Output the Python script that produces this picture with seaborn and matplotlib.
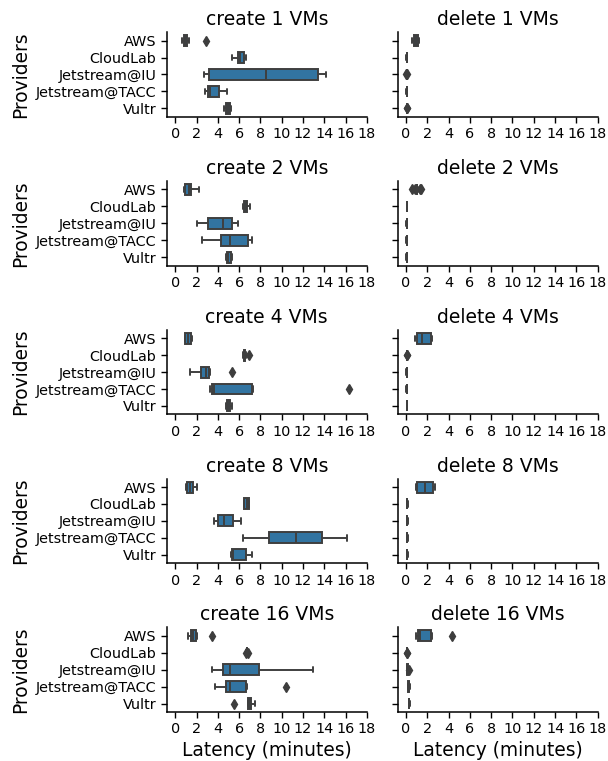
import matplotlib
matplotlib.use("Agg")
import matplotlib.pyplot as plt
import seaborn as sns
import pandas as pd

PROVIDERS = ["AWS", "CloudLab", "Jetstream@IU", "Jetstream@TACC", "Vultr"]
VM_COUNTS = [1, 2, 4, 8, 16]
OPERATIONS = ["create", "delete"]

# latency samples (minutes) per provider
CREATE_1 = {
    "AWS": [0.65, 0.75, 0.8, 0.9, 0.95, 1.0, 1.1, 1.3, 2.9],
    "CloudLab": [5.3, 5.85, 6.1, 6.45, 6.6],
    "Jetstream@IU": [2.7, 3.2, 8.5, 13.4, 14.2],
    "Jetstream@TACC": [2.8, 3.05, 3.3, 4.1, 4.9],
    "Vultr": [4.6, 4.8, 4.95, 5.1, 5.2],
}
DELETE_1 = {
    "AWS": [0.55, 0.75, 0.9, 1.1, 1.25],
    "CloudLab": [0.03, 0.06, 0.08, 0.1, 0.13],
    "Jetstream@IU": [0.04, 0.05, 0.05, 0.05, 0.05, 0.05, 0.05, 0.05, 0.09],
    "Jetstream@TACC": [0.03, 0.05, 0.07, 0.09, 0.11],
    "Vultr": [0.08, 0.1, 0.1, 0.1, 0.1, 0.1, 0.1, 0.1, 0.12],
}
CREATE_2 = {
    "AWS": [0.85, 0.95, 1.25, 1.5, 2.2],
    "CloudLab": [6.35, 6.45, 6.6, 6.75, 7.0],
    "Jetstream@IU": [2.0, 3.1, 4.45, 5.35, 5.9],
    "Jetstream@TACC": [2.5, 4.3, 5.15, 6.8, 7.2],
    "Vultr": [4.75, 4.85, 5.0, 5.2, 5.35],
}
DELETE_2 = {
    "AWS": [0.55, 0.8, 0.95, 1.0, 1.0, 1.02, 1.02, 1.04, 1.05, 1.05, 1.1, 1.3, 1.45],
    "CloudLab": [0.05, 0.06, 0.07, 0.08, 0.09],
    "Jetstream@IU": [0.03, 0.05, 0.06, 0.08, 0.1],
    "Jetstream@TACC": [0.03, 0.05, 0.06, 0.08, 0.1],
    "Vultr": [0.03, 0.05, 0.06, 0.08, 0.1],
}
CREATE_4 = {
    "AWS": [0.9, 0.95, 1.2, 1.45, 1.6],
    "CloudLab": [6.35, 6.4, 6.42, 6.45, 6.5, 6.52, 6.55, 6.6, 6.95],
    "Jetstream@IU": [1.4, 2.0, 2.45, 2.7, 2.85, 3.0, 3.2, 3.25, 5.3],
    "Jetstream@TACC": [3.3, 3.4, 3.45, 3.55, 3.65, 5.0, 7.25, 7.3, 16.35],
    "Vultr": [4.75, 4.85, 5.0, 5.15, 5.3],
}
DELETE_4 = {
    "AWS": [0.85, 1.05, 1.5, 2.35, 2.45],
    "CloudLab": [0.05, 0.07, 0.07, 0.07, 0.07, 0.07, 0.07, 0.07, 0.1],
    "Jetstream@IU": [0.04, 0.06, 0.07, 0.09, 0.1],
    "Jetstream@TACC": [0.04, 0.06, 0.07, 0.09, 0.1],
    "Vultr": [0.06, 0.08, 0.1, 0.12, 0.13],
}
CREATE_8 = {
    "AWS": [1.0, 1.15, 1.4, 1.7, 2.0],
    "CloudLab": [6.45, 6.5, 6.7, 6.9, 6.95],
    "Jetstream@IU": [3.6, 4.05, 4.6, 5.4, 6.2],
    "Jetstream@TACC": [6.4, 8.85, 11.3, 13.8, 16.15],
    "Vultr": [5.2, 5.3, 5.45, 6.6, 7.25],
}
DELETE_8 = {
    "AWS": [0.9, 1.0, 1.8, 2.5, 2.7],
    "CloudLab": [0.06, 0.08, 0.1, 0.12, 0.14],
    "Jetstream@IU": [0.06, 0.08, 0.1, 0.12, 0.14],
    "Jetstream@TACC": [0.06, 0.08, 0.1, 0.12, 0.14],
    "Vultr": [0.06, 0.08, 0.1, 0.12, 0.14],
}
CREATE_16 = {
    "AWS": [1.2, 1.3, 1.5, 1.55, 1.7, 1.8, 1.95, 2.0, 3.45],
    "CloudLab": [6.6, 6.68, 6.7, 6.7, 6.7, 6.7, 6.72, 6.74, 6.8],
    "Jetstream@IU": [3.5, 4.45, 5.1, 7.85, 12.9],
    "Jetstream@TACC": [3.75, 4.3, 4.8, 4.95, 5.15, 5.8, 6.6, 6.7, 10.45],
    "Vultr": [5.55, 6.8, 6.85, 6.9, 7.0, 7.05, 7.15, 7.35, 7.45],
}
DELETE_16 = {
    "AWS": [0.95, 1.1, 1.15, 1.25, 1.35, 1.8, 2.35, 2.4, 4.3],
    "CloudLab": [0.05, 0.07, 0.07, 0.07, 0.07, 0.07, 0.07, 0.07, 0.1],
    "Jetstream@IU": [0.05, 0.1, 0.12, 0.15, 0.25],
    "Jetstream@TACC": [0.15, 0.2, 0.26, 0.3, 0.35],
    "Vultr": [0.25, 0.28, 0.3, 0.32, 0.34],
}

PANELS = {
    ("create", 1): CREATE_1, ("delete", 1): DELETE_1,
    ("create", 2): CREATE_2, ("delete", 2): DELETE_2,
    ("create", 4): CREATE_4, ("delete", 4): DELETE_4,
    ("create", 8): CREATE_8, ("delete", 8): DELETE_8,
    ("create", 16): CREATE_16, ("delete", 16): DELETE_16,
}

XTICKS = list(range(0, 20, 2))

sns.set_theme(style="ticks", rc={
    "xtick.major.size": 4, "ytick.major.size": 4,
    "xtick.major.width": 1.0, "ytick.major.width": 1.0,
    "axes.linewidth": 1.1,
    "xtick.major.pad": 3.5, "ytick.major.pad": 3.5,
    "text.color": "black", "axes.labelcolor": "black",
    "xtick.color": "black", "ytick.color": "black",
    "axes.edgecolor": "black",
})
plt.rcParams["font.family"] = ["DejaVu Sans"]

fig, axes = plt.subplots(5, 2, figsize=(6.08, 7.61), dpi=100, sharex=True, sharey=True)
fig.subplots_adjust(left=0.2742, right=0.983, top=0.9577, bottom=0.0644,
                    wspace=0.153, hspace=0.76)

flierprops = dict(marker="d", markersize=5.5, markerfacecolor="#3d3d3d",
                  markeredgecolor="#3d3d3d")

for r, n in enumerate(VM_COUNTS):
    for c, op in enumerate(OPERATIONS):
        ax = axes[r, c]
        data = PANELS[(op, n)]
        rows = [(p, v) for p in PROVIDERS for v in data[p]]
        df = pd.DataFrame(rows, columns=["provider", "latency"])
        sns.boxplot(data=df, x="latency", y="provider", order=PROVIDERS,
                    color="#1f77b4", width=0.65, linewidth=1.4,
                    flierprops=flierprops, ax=ax)
        ax.set_title(f"{op} {n} VMs", fontsize=13.5, pad=5)
        ax.set_xticks(XTICKS)
        ax.set_xlim(-0.8, 18)
        ax.tick_params(axis="x", labelbottom=True, labelsize=10.4)
        ax.tick_params(axis="y", labelsize=10.4)
        ax.set_ylabel("Providers" if c == 0 else "", fontsize=13.4, labelpad=4)
        ax.set_xlabel("Latency (minutes)" if r == len(VM_COUNTS) - 1 else "",
                      fontsize=13.4, labelpad=3)
        sns.despine(ax=ax)

fig.savefig("out.png", dpi=100)
